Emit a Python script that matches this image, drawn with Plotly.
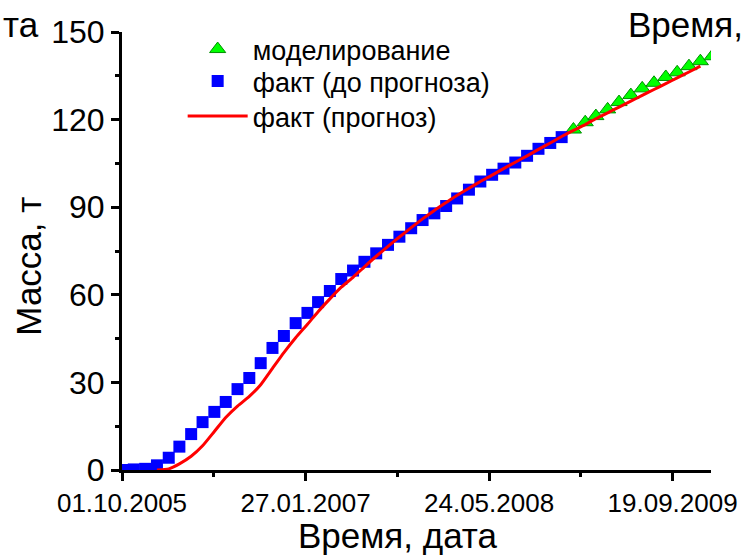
import pandas as pd
import plotly.graph_objects as go

FONT = "Liberation Sans, Arial, sans-serif"

# Axis setup
tick_labels = ["01.10.2005", "27.01.2007", "24.05.2008", "19.09.2009"]
x_range = ["2005-10-01", "2009-12-29"]
y_ticks = [0, 30, 60, 90, 120, 150]

# Measured mass, monthly, before the forecast period (starts Oct 2005)
fact_before_start = "2005-10-01"
fact_before = [0.0, 0.2, 0.4, 1.6, 4.2, 8.0, 12.3, 16.4, 19.9, 23.3,
               27.7, 31.5, 36.6, 41.8, 45.9, 50.3, 53.8, 57.5, 61.3, 65.4,
               68.3, 71.3, 74.2, 77.1, 79.9, 82.8, 85.6, 87.9, 90.4, 93.0,
               96.0, 98.8, 101.1, 103.2, 105.3, 107.6, 110.0, 112.0, 114.0]

# Measured mass over the forecast run, monthly (starts Jan 2006)
fact_forecast_start = "2006-01-01"
fact_forecast = [0.0, 0.4, 2.1, 4.7, 8.3, 13.2, 18.0, 21.9, 25.2, 29.2,
                 34.8, 40.2, 45.3, 49.9, 54.2, 58.6, 62.6, 66.0, 69.6, 73.2,
                 76.6, 79.8, 83.0, 86.0, 88.9, 91.6, 94.1, 96.5, 98.8, 101.0,
                 103.2, 105.4, 107.6, 109.8, 112.0, 114.2, 116.3, 118.3, 120.3, 122.3,
                 124.3, 126.3, 128.3, 130.3, 132.3, 134.3, 136.3, 138.3]

# Simulated mass, monthly (starts Jan 2009)
model_start = "2009-01-01"
model = [116.6, 119.1, 121.2, 123.5, 126.0, 128.4, 130.7, 132.6, 134.6,
         136.2, 138.3, 140.0, 141.7]

fb_x = pd.date_range(fact_before_start, periods=len(fact_before), freq="MS")
ff_x = pd.date_range(fact_forecast_start, periods=len(fact_forecast), freq="MS")
md_x = pd.date_range(model_start, periods=len(model), freq="MS")

tick_dates = [pd.to_datetime(t, format="%d.%m.%Y") for t in tick_labels]
minor_dates = [a + (b - a) / 2 for a, b in zip(tick_dates[:-1], tick_dates[1:])]

fig = go.Figure()
fig.add_trace(go.Scatter(
    x=md_x, y=model, mode="markers", name="моделирование",
    marker=dict(symbol="triangle-up", size=14, color="#00ff00",
                line=dict(color="#009000", width=1)),
    legend="legend",
))
fig.add_trace(go.Scatter(
    x=fb_x, y=fact_before, mode="markers", name="факт (до прогноза)",
    marker=dict(symbol="square", size=12, color="#0000ff",
                line=dict(width=0)),
    legend="legend2",
))
fig.add_trace(go.Scatter(
    x=ff_x, y=fact_forecast, mode="lines", name="факт (прогноз)",
    line=dict(color="#ff0000", width=3, shape="spline", smoothing=0.5),
    legend="legend3",
))

axis_common = dict(
    showgrid=False, zeroline=False, showline=True, linecolor="black",
    linewidth=3, ticks="outside", ticklen=8, tickwidth=2.5, tickcolor="black",
    mirror=False,
)

fig.update_xaxes(
    **axis_common,
    type="date", range=x_range,
    tickmode="array", tickvals=tick_dates, ticktext=tick_labels,
    tickfont=dict(family=FONT, size=26, color="black"),
    minor=dict(tickmode="array", tickvals=minor_dates, ticks="outside",
               ticklen=4, tickwidth=2.5, tickcolor="black"),
)
fig.update_yaxes(
    **axis_common,
    range=[0, 150], tickmode="array", tickvals=y_ticks,
    tickfont=dict(family=FONT, size=32, color="black"),
    minor=dict(dtick=15, ticks="outside", ticklen=4, tickwidth=2.5,
               tickcolor="black"),
)


def legend_box(top_px):
    return dict(
        x=0.103, y=(470 - top_px) / 438, xanchor="left", yanchor="top",
        bgcolor="rgba(0,0,0,0)", font=dict(family=FONT, size=27),
        itemwidth=60,
    )


fig.update_layout(
    width=749, height=556,
    margin=dict(l=122, r=34, t=32, b=86),
    paper_bgcolor="white", plot_bgcolor="white",
    font=dict(family=FONT, color="black"),
    showlegend=True,
    legend=legend_box(25),
    legend2=legend_box(57),
    legend3=legend_box(92),
    annotations=[
        dict(text="Время, дата", xref="paper", yref="paper",
             x=(399 - 122) / 593, y=(470 - 535) / 438,
             xanchor="center", yanchor="middle", showarrow=False,
             font=dict(family=FONT, size=35)),
        dict(text="Масса, т", xref="paper", yref="paper",
             x=(27 - 122) / 593, y=(470 - 266) / 438, textangle=-90,
             xanchor="center", yanchor="middle", showarrow=False,
             font=dict(family=FONT, size=35)),
        dict(text="Время,", xref="paper", yref="paper",
             x=(749 - 122) / 593, y=(470 - 24) / 438,
             xanchor="right", yanchor="middle", showarrow=False,
             font=dict(family=FONT, size=35)),
        dict(text="та", xref="paper", yref="paper",
             x=(0 - 122) / 593, y=(470 - 24) / 438,
             xanchor="left", yanchor="middle", showarrow=False,
             font=dict(family=FONT, size=35)),
    ],
)

fig.write_html("out.html")
